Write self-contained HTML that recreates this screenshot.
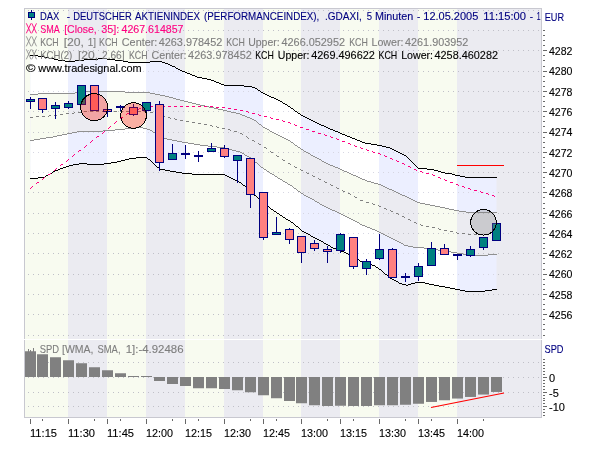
<!DOCTYPE html>
<html lang="de"><head><meta charset="utf-8"><title>DAX - DEUTSCHER AKTIENINDEX (PERFORMANCEINDEX)</title>
<style>html,body{margin:0;padding:0;background:#fff;}body{width:600px;height:450px;overflow:hidden;}svg{display:block;}text{font-family:"Liberation Sans",sans-serif;font-size:11px;stroke-width:0.12px;}.n{fill:#000080;stroke:#000080}.p{fill:#ff0080;stroke:#ff0080}.g{fill:#7e7e7e;stroke:#7e7e7e}.k{fill:#000;stroke:#000}</style>
</head><body>
<svg width="600" height="450" viewBox="0 0 600 450">
<defs>
<clipPath id="cpOuter"><polygon points="30.5,55.3 41.0,56.3 50.7,58.4 58.7,60.0 66.7,61.3 70.7,61.7 77.3,60.7 86.7,59.7 96.0,59.3 101.0,58.5 110.0,59.3 120.7,60.7 128.7,62.0 138.0,63.0 147.3,62.4 154.0,61.3 159.3,61.0 164.7,62.7 170.0,65.0 174.0,66.7 182.0,71.0 197.5,77.0 210.0,79.5 224.0,85.0 250.0,86.3 256.0,88.5 263.0,93.0 280.0,101.0 290.0,107.0 301.0,115.0 315.0,122.0 328.0,128.0 340.0,133.0 352.0,138.0 365.0,143.0 380.0,145.5 390.0,148.0 405.0,155.5 418.0,168.0 432.0,169.5 445.0,173.0 450.0,173.5 455.0,175.0 460.0,176.0 467.0,177.5 496.5,177.5 496.5,289.3 485.0,291.0 467.0,291.3 457.0,289.5 445.0,287.0 440.0,286.3 430.0,284.2 420.0,282.0 415.0,283.0 406.5,285.3 400.0,283.3 390.0,278.0 382.0,271.0 375.0,266.0 360.0,261.0 355.0,257.0 345.0,252.5 333.0,248.0 322.0,241.7 315.0,238.0 302.5,231.0 292.0,222.5 280.0,215.0 270.0,208.0 262.0,201.5 255.0,195.5 247.0,187.5 240.0,182.5 232.0,178.3 225.0,175.0 200.0,174.5 185.0,173.5 170.0,171.0 160.0,169.0 155.0,165.0 150.0,160.0 145.0,157.0 130.0,158.8 115.0,162.5 100.0,164.5 80.0,163.8 70.0,165.5 55.0,171.0 43.8,177.5 30.5,178.8"/></clipPath>
<clipPath id="cpInner"><polygon points="30.5,94.5 37.0,94.5 39.0,93.7 70.0,93.7 78.0,92.6 85.0,92.0 107.0,91.5 125.0,92.0 140.0,92.0 150.0,93.0 157.0,94.3 165.0,96.0 182.0,100.5 200.0,105.0 225.0,110.5 240.0,114.0 250.0,118.0 256.0,121.0 263.0,127.0 275.0,133.5 280.0,136.0 290.0,141.0 301.0,149.0 315.0,157.0 328.0,164.0 340.0,169.0 367.0,181.0 380.0,184.5 400.0,194.0 405.0,196.0 418.0,202.5 435.0,206.0 445.0,208.0 457.0,210.8 470.0,212.5 496.5,212.5 496.5,254.2 485.0,255.3 470.0,255.0 457.0,253.0 440.0,250.3 427.0,248.3 413.0,247.0 405.0,245.3 400.0,242.5 390.0,237.5 375.0,230.0 362.0,225.0 355.0,220.8 338.0,212.5 325.0,206.7 315.0,200.8 302.0,193.7 292.0,186.3 280.0,179.0 263.0,168.3 250.0,157.5 240.0,152.0 225.0,148.0 200.0,145.0 182.0,142.0 165.0,138.5 155.0,133.0 150.0,130.0 141.0,127.3 130.0,128.5 115.0,130.0 100.0,131.3 80.0,131.3 52.5,137.0 30.5,140.5"/></clipPath>
<clipPath id="cpPlot"><rect x="24" y="8" width="518" height="410"/></clipPath>
</defs>
<rect width="600" height="450" fill="#fff"/>
<g shape-rendering="crispEdges"><rect x="24" y="8" width="518" height="410" fill="#ebebf1"/><rect x="24.00" y="8" width="44.00" height="410" fill="#f8fbf0"/><rect x="107.00" y="8" width="39.00" height="410" fill="#f8fbf0"/><rect x="185.00" y="8" width="39.00" height="410" fill="#f8fbf0"/><rect x="263.00" y="8" width="38.00" height="410" fill="#f8fbf0"/><rect x="340.00" y="8" width="39.00" height="410" fill="#f8fbf0"/><rect x="418.00" y="8" width="39.00" height="410" fill="#f8fbf0"/></g>
<g stroke="#c0c0c8" stroke-width="1" stroke-dasharray="1 4" shape-rendering="crispEdges"><line x1="28" y1="10.5" x2="541" y2="10.5"/><line x1="28" y1="30.5" x2="541" y2="30.5"/><line x1="28" y1="50.5" x2="541" y2="50.5"/><line x1="28" y1="71.5" x2="541" y2="71.5"/><line x1="28" y1="91.5" x2="541" y2="91.5"/><line x1="28" y1="111.5" x2="541" y2="111.5"/><line x1="28" y1="132.5" x2="541" y2="132.5"/><line x1="28" y1="152.5" x2="541" y2="152.5"/><line x1="28" y1="172.5" x2="541" y2="172.5"/><line x1="28" y1="192.5" x2="541" y2="192.5"/><line x1="28" y1="213.5" x2="541" y2="213.5"/><line x1="28" y1="233.5" x2="541" y2="233.5"/><line x1="28" y1="253.5" x2="541" y2="253.5"/><line x1="28" y1="274.5" x2="541" y2="274.5"/><line x1="28" y1="294.5" x2="541" y2="294.5"/><line x1="28" y1="314.5" x2="541" y2="314.5"/><line x1="28" y1="335.5" x2="541" y2="335.5"/><line x1="28" y1="362.5" x2="541" y2="362.5"/><line x1="28" y1="377.5" x2="541" y2="377.5"/><line x1="28" y1="392.5" x2="541" y2="392.5"/><line x1="28" y1="406.5" x2="541" y2="406.5"/></g>
<g clip-path="url(#cpOuter)"><rect x="24" y="8" width="518" height="410" fill="#ecefff"/><rect x="24.00" y="8" width="44.00" height="410" fill="#ffffff"/><rect x="107.00" y="8" width="39.00" height="410" fill="#ffffff"/><rect x="185.00" y="8" width="39.00" height="410" fill="#ffffff"/><rect x="263.00" y="8" width="38.00" height="410" fill="#ffffff"/><rect x="340.00" y="8" width="39.00" height="410" fill="#ffffff"/><rect x="418.00" y="8" width="39.00" height="410" fill="#ffffff"/><g stroke="#d6d6e2" stroke-width="1" stroke-dasharray="1 4" shape-rendering="crispEdges"><line x1="28" y1="10.5" x2="541" y2="10.5"/><line x1="28" y1="30.5" x2="541" y2="30.5"/><line x1="28" y1="50.5" x2="541" y2="50.5"/><line x1="28" y1="71.5" x2="541" y2="71.5"/><line x1="28" y1="91.5" x2="541" y2="91.5"/><line x1="28" y1="111.5" x2="541" y2="111.5"/><line x1="28" y1="132.5" x2="541" y2="132.5"/><line x1="28" y1="152.5" x2="541" y2="152.5"/><line x1="28" y1="172.5" x2="541" y2="172.5"/><line x1="28" y1="192.5" x2="541" y2="192.5"/><line x1="28" y1="213.5" x2="541" y2="213.5"/><line x1="28" y1="233.5" x2="541" y2="233.5"/><line x1="28" y1="253.5" x2="541" y2="253.5"/><line x1="28" y1="274.5" x2="541" y2="274.5"/><line x1="28" y1="294.5" x2="541" y2="294.5"/><line x1="28" y1="314.5" x2="541" y2="314.5"/><line x1="28" y1="335.5" x2="541" y2="335.5"/><line x1="28" y1="362.5" x2="541" y2="362.5"/><line x1="28" y1="377.5" x2="541" y2="377.5"/><line x1="28" y1="392.5" x2="541" y2="392.5"/><line x1="28" y1="406.5" x2="541" y2="406.5"/></g></g>
<g clip-path="url(#cpInner)"><rect x="24" y="8" width="518" height="410" fill="#ebebf1"/><rect x="24.00" y="8" width="44.00" height="410" fill="#f8fbf0"/><rect x="107.00" y="8" width="39.00" height="410" fill="#f8fbf0"/><rect x="185.00" y="8" width="39.00" height="410" fill="#f8fbf0"/><rect x="263.00" y="8" width="38.00" height="410" fill="#f8fbf0"/><rect x="340.00" y="8" width="39.00" height="410" fill="#f8fbf0"/><rect x="418.00" y="8" width="39.00" height="410" fill="#f8fbf0"/><g stroke="#c4c4cc" stroke-width="1" stroke-dasharray="1 4" shape-rendering="crispEdges"><line x1="28" y1="10.5" x2="541" y2="10.5"/><line x1="28" y1="30.5" x2="541" y2="30.5"/><line x1="28" y1="50.5" x2="541" y2="50.5"/><line x1="28" y1="71.5" x2="541" y2="71.5"/><line x1="28" y1="91.5" x2="541" y2="91.5"/><line x1="28" y1="111.5" x2="541" y2="111.5"/><line x1="28" y1="132.5" x2="541" y2="132.5"/><line x1="28" y1="152.5" x2="541" y2="152.5"/><line x1="28" y1="172.5" x2="541" y2="172.5"/><line x1="28" y1="192.5" x2="541" y2="192.5"/><line x1="28" y1="213.5" x2="541" y2="213.5"/><line x1="28" y1="233.5" x2="541" y2="233.5"/><line x1="28" y1="253.5" x2="541" y2="253.5"/><line x1="28" y1="274.5" x2="541" y2="274.5"/><line x1="28" y1="294.5" x2="541" y2="294.5"/><line x1="28" y1="314.5" x2="541" y2="314.5"/><line x1="28" y1="335.5" x2="541" y2="335.5"/><line x1="28" y1="362.5" x2="541" y2="362.5"/><line x1="28" y1="377.5" x2="541" y2="377.5"/><line x1="28" y1="392.5" x2="541" y2="392.5"/><line x1="28" y1="406.5" x2="541" y2="406.5"/></g></g>
<rect x="24.5" y="8.5" width="517" height="409" fill="none" stroke="#c8c8d0" stroke-width="1" shape-rendering="crispEdges"/>
<line x1="24" y1="339.5" x2="542" y2="339.5" stroke="#ffffff" stroke-width="1" shape-rendering="crispEdges"/>
<g shape-rendering="crispEdges">
<path d="M85 91h40v1h-40zM75 92h10v1h-10zM125 92h25v1h-25zM38 93h37v1h-37zM150 93h5v1h-5zM30 94h8v1h-8zM155 94h5v1h-5zM160 95h5v1h-5zM165 96h4v1h-4zM169 97h4v1h-4zM173 98h3v1h-3zM176 99h4v1h-4zM180 100h4v1h-4zM184 101h4v1h-4zM188 102h4v1h-4zM192 103h4v1h-4zM196 104h4v1h-4zM200 105h5v1h-5zM205 106h4v1h-4zM209 107h5v1h-5zM214 108h4v1h-4zM218 109h5v1h-5zM223 110h4v1h-4zM227 111h4v1h-4zM231 112h5v1h-5zM236 113h4v1h-4zM240 114h2v1h-2zM242 115h3v1h-3zM245 116h2v1h-2zM247 117h3v1h-3zM250 118h2v1h-2zM252 119h2v1h-2zM254 120h2v1h-2zM256 121h1v1h-1zM257 122h1v1h-1zM258 123h1v1h-1zM259 124h2v1h-2zM261 125h1v1h-1zM262 126h1v1h-1zM263 127h2v1h-2zM265 128h2v1h-2zM267 129h2v1h-2zM269 130h1v1h-1zM270 131h2v1h-2zM272 132h2v1h-2zM274 133h2v1h-2zM276 134h2v1h-2zM278 135h2v1h-2zM280 136h2v1h-2zM282 137h2v1h-2zM284 138h2v1h-2zM286 139h2v1h-2zM288 140h2v1h-2zM290 141h1v1h-1zM291 142h2v1h-2zM293 143h1v1h-1zM294 144h1v1h-1zM295 145h2v1h-2zM297 146h1v1h-1zM298 147h2v1h-2zM300 148h1v1h-1zM301 149h2v1h-2zM303 150h1v1h-1zM304 151h2v1h-2zM306 152h2v1h-2zM308 153h2v1h-2zM310 154h1v1h-1zM311 155h2v1h-2zM313 156h2v1h-2zM315 157h2v1h-2zM317 158h2v1h-2zM319 159h2v1h-2zM321 160h1v1h-1zM322 161h2v1h-2zM324 162h2v1h-2zM326 163h2v1h-2zM328 164h2v1h-2zM330 165h3v1h-3zM333 166h2v1h-2zM335 167h3v1h-3zM338 168h2v1h-2zM340 169h2v1h-2zM342 170h2v1h-2zM344 171h3v1h-3zM347 172h2v1h-2zM349 173h2v1h-2zM351 174h2v1h-2zM353 175h3v1h-3zM356 176h2v1h-2zM358 177h2v1h-2zM360 178h2v1h-2zM362 179h3v1h-3zM365 180h2v1h-2zM367 181h4v1h-4zM371 182h3v1h-3zM374 183h4v1h-4zM378 184h3v1h-3zM381 185h2v1h-2zM383 186h2v1h-2zM385 187h2v1h-2zM387 188h2v1h-2zM389 189h3v1h-3zM392 190h2v1h-2zM394 191h2v1h-2zM396 192h2v1h-2zM398 193h2v1h-2zM400 194h2v1h-2zM402 195h3v1h-3zM405 196h2v1h-2zM407 197h2v1h-2zM409 198h2v1h-2zM411 199h2v1h-2zM413 200h2v1h-2zM415 201h2v1h-2zM417 202h3v1h-3zM420 203h5v1h-5zM425 204h5v1h-5zM430 205h5v1h-5zM435 206h5v1h-5zM440 207h5v1h-5zM445 208h4v1h-4zM449 209h5v1h-5zM454 210h5v1h-5zM459 211h7v1h-7zM466 212h31v1h-31z" fill="#909090"/>
<path d="M135 127h8v1h-8zM125 128h10v1h-10zM143 128h4v1h-4zM115 129h10v1h-10zM147 129h3v1h-3zM103 130h12v1h-12zM150 130h2v1h-2zM77 131h26v1h-26zM152 131h1v1h-1zM72 132h5v1h-5zM153 132h2v1h-2zM67 133h5v1h-5zM155 133h2v1h-2zM62 134h5v1h-5zM157 134h2v1h-2zM57 135h5v1h-5zM159 135h1v1h-1zM53 136h4v1h-4zM160 136h2v1h-2zM46 137h7v1h-7zM162 137h2v1h-2zM40 138h6v1h-6zM164 138h3v1h-3zM34 139h6v1h-6zM167 139h5v1h-5zM30 140h4v1h-4zM172 140h5v1h-5zM177 141h5v1h-5zM182 142h6v1h-6zM188 143h6v1h-6zM194 144h6v1h-6zM200 145h8v1h-8zM208 146h9v1h-9zM217 147h8v1h-8zM225 148h4v1h-4zM229 149h3v1h-3zM232 150h4v1h-4zM236 151h4v1h-4zM240 152h2v1h-2zM242 153h2v1h-2zM244 154h1v1h-1zM245 155h2v1h-2zM247 156h2v1h-2zM249 157h2v1h-2zM251 158h1v1h-1zM252 159h1v1h-1zM253 160h1v1h-1zM254 161h1v1h-1zM255 162h2v1h-2zM257 163h1v1h-1zM258 164h1v1h-1zM259 165h1v1h-1zM260 166h1v1h-1zM261 167h2v1h-2zM263 168h1v1h-1zM264 169h2v1h-2zM266 170h1v1h-1zM267 171h2v1h-2zM269 172h1v1h-1zM270 173h2v1h-2zM272 174h2v1h-2zM274 175h1v1h-1zM275 176h2v1h-2zM277 177h1v1h-1zM278 178h2v1h-2zM280 179h2v1h-2zM282 180h1v1h-1zM283 181h2v1h-2zM285 182h2v1h-2zM287 183h1v1h-1zM288 184h2v1h-2zM290 185h2v1h-2zM292 186h1v1h-1zM293 187h1v1h-1zM294 188h2v1h-2zM296 189h1v1h-1zM297 190h1v1h-1zM298 191h2v1h-2zM300 192h1v1h-1zM301 193h2v1h-2zM303 194h1v1h-1zM304 195h2v1h-2zM306 196h2v1h-2zM308 197h2v1h-2zM310 198h2v1h-2zM312 199h2v1h-2zM314 200h1v1h-1zM315 201h2v1h-2zM317 202h2v1h-2zM319 203h1v1h-1zM320 204h2v1h-2zM322 205h2v1h-2zM324 206h2v1h-2zM326 207h2v1h-2zM328 208h2v1h-2zM330 209h2v1h-2zM332 210h3v1h-3zM335 211h2v1h-2zM337 212h2v1h-2zM339 213h2v1h-2zM341 214h2v1h-2zM343 215h2v1h-2zM345 216h2v1h-2zM347 217h2v1h-2zM349 218h2v1h-2zM351 219h2v1h-2zM353 220h2v1h-2zM355 221h2v1h-2zM357 222h2v1h-2zM359 223h1v1h-1zM360 224h2v1h-2zM362 225h3v1h-3zM365 226h2v1h-2zM367 227h3v1h-3zM370 228h2v1h-2zM372 229h3v1h-3zM375 230h2v1h-2zM377 231h2v1h-2zM379 232h2v1h-2zM381 233h2v1h-2zM383 234h2v1h-2zM385 235h2v1h-2zM387 236h2v1h-2zM389 237h2v1h-2zM391 238h2v1h-2zM393 239h2v1h-2zM395 240h2v1h-2zM397 241h2v1h-2zM399 242h2v1h-2zM401 243h2v1h-2zM403 244h1v1h-1zM404 245h4v1h-4zM408 246h5v1h-5zM413 247h11v1h-11zM424 248h8v1h-8zM432 249h6v1h-6zM438 250h6v1h-6zM444 251h7v1h-7zM451 252h6v1h-6zM457 253h6v1h-6zM463 254h7v1h-7zM488 254h9v1h-9zM470 255h18v1h-18z" fill="#909090"/>
<path d="M84 111h3v1h-3zM90 111h3v1h-3zM96 111h3v1h-3zM102 111h3v1h-3zM108 111h3v1h-3zM114 111h3v1h-3zM120 111h3v1h-3zM126 111h3v1h-3zM132 111h3v1h-3zM138 111h3v1h-3zM144 111h3v1h-3zM74 112h1v1h-1zM78 112h3v1h-3zM150 112h3v1h-3zM66 113h3v1h-3zM72 113h2v1h-2zM60 114h3v1h-3zM156 114h3v1h-3zM49 115h2v1h-2zM54 115h3v1h-3zM36 116h3v1h-3zM42 116h3v1h-3zM48 116h1v1h-1zM162 116h3v1h-3zM30 117h3v1h-3zM168 117h2v1h-2zM170 118h1v1h-1zM174 118h1v1h-1zM175 119h2v1h-2zM180 120h3v1h-3zM186 121h3v1h-3zM192 122h3v1h-3zM198 123h3v1h-3zM204 124h3v1h-3zM210 125h2v1h-2zM212 126h1v1h-1zM216 126h1v1h-1zM217 127h2v1h-2zM222 128h3v1h-3zM228 129h2v1h-2zM230 130h1v1h-1zM234 131h3v1h-3zM240 133h2v1h-2zM242 134h1v1h-1zM246 136h1v1h-1zM247 137h1v1h-1zM248 138h1v1h-1zM252 140h2v1h-2zM254 141h1v1h-1zM258 143h1v1h-1zM259 144h2v1h-2zM264 147h2v1h-2zM266 148h1v1h-1zM270 151h1v1h-1zM271 152h2v1h-2zM276 155h1v1h-1zM277 156h2v1h-2zM282 159h1v1h-1zM283 160h2v1h-2zM288 163h2v1h-2zM290 164h1v1h-1zM294 166h1v1h-1zM295 167h2v1h-2zM300 169h1v1h-1zM301 170h2v1h-2zM306 172h1v1h-1zM307 173h2v1h-2zM312 175h1v1h-1zM313 176h2v1h-2zM318 178h1v1h-1zM319 179h2v1h-2zM324 181h1v1h-1zM325 182h2v1h-2zM330 184h1v1h-1zM331 185h2v1h-2zM336 187h1v1h-1zM337 188h2v1h-2zM342 190h1v1h-1zM343 191h2v1h-2zM348 193h2v1h-2zM350 194h1v1h-1zM354 196h1v1h-1zM355 197h2v1h-2zM360 200h3v1h-3zM366 202h3v1h-3zM372 203h1v1h-1zM373 204h2v1h-2zM378 205h1v1h-1zM379 206h2v1h-2zM384 208h2v1h-2zM386 209h1v1h-1zM390 210h1v1h-1zM391 211h2v1h-2zM396 213h2v1h-2zM398 214h1v1h-1zM402 216h2v1h-2zM404 217h1v1h-1zM408 219h2v1h-2zM410 220h1v1h-1zM414 222h2v1h-2zM416 223h1v1h-1zM420 224h1v1h-1zM421 225h2v1h-2zM426 226h3v1h-3zM432 227h3v1h-3zM438 228h1v1h-1zM439 229h2v1h-2zM444 230h3v1h-3zM450 231h3v1h-3zM456 232h1v1h-1zM457 233h2v1h-2zM462 233h3v1h-3zM468 234h3v1h-3zM474 234h3v1h-3zM480 234h3v1h-3zM486 234h3v1h-3zM492 234h3v1h-3z" fill="#808080"/>
<path d="M30 55h8v1h-8zM38 56h6v1h-6zM44 57h5v1h-5zM49 58h5v1h-5zM98 58h9v1h-9zM54 59h4v1h-4zM84 59h14v1h-14zM107 59h8v1h-8zM58 60h7v1h-7zM75 60h9v1h-9zM115 60h8v1h-8zM65 61h10v1h-10zM123 61h5v1h-5zM150 61h12v1h-12zM128 62h22v1h-22zM162 62h3v1h-3zM165 63h3v1h-3zM168 64h2v1h-2zM170 65h2v1h-2zM172 66h3v1h-3zM175 67h1v1h-1zM176 68h2v1h-2zM178 69h2v1h-2zM180 70h2v1h-2zM182 71h3v1h-3zM185 72h2v1h-2zM187 73h3v1h-3zM190 74h2v1h-2zM192 75h3v1h-3zM195 76h2v1h-2zM197 77h5v1h-5zM202 78h5v1h-5zM207 79h4v1h-4zM211 80h3v1h-3zM214 81h2v1h-2zM216 82h3v1h-3zM219 83h2v1h-2zM221 84h3v1h-3zM224 85h20v1h-20zM244 86h8v1h-8zM252 87h3v1h-3zM255 88h2v1h-2zM257 89h1v1h-1zM258 90h2v1h-2zM260 91h1v1h-1zM261 92h2v1h-2zM263 93h2v1h-2zM265 94h2v1h-2zM267 95h2v1h-2zM269 96h2v1h-2zM271 97h3v1h-3zM274 98h2v1h-2zM276 99h2v1h-2zM278 100h2v1h-2zM280 101h2v1h-2zM282 102h1v1h-1zM283 103h2v1h-2zM285 104h2v1h-2zM287 105h1v1h-1zM288 106h2v1h-2zM290 107h1v1h-1zM291 108h2v1h-2zM293 109h1v1h-1zM294 110h1v1h-1zM295 111h2v1h-2zM297 112h1v1h-1zM298 113h2v1h-2zM300 114h1v1h-1zM301 115h2v1h-2zM303 116h2v1h-2zM305 117h2v1h-2zM307 118h2v1h-2zM309 119h2v1h-2zM311 120h2v1h-2zM313 121h2v1h-2zM315 122h2v1h-2zM317 123h2v1h-2zM319 124h2v1h-2zM321 125h3v1h-3zM324 126h2v1h-2zM326 127h2v1h-2zM328 128h2v1h-2zM330 129h3v1h-3zM333 130h2v1h-2zM335 131h3v1h-3zM338 132h2v1h-2zM340 133h2v1h-2zM342 134h3v1h-3zM345 135h2v1h-2zM347 136h3v1h-3zM350 137h2v1h-2zM352 138h3v1h-3zM355 139h2v1h-2zM357 140h3v1h-3zM360 141h2v1h-2zM362 142h3v1h-3zM365 143h6v1h-6zM371 144h6v1h-6zM377 145h5v1h-5zM382 146h4v1h-4zM386 147h4v1h-4zM390 148h2v1h-2zM392 149h2v1h-2zM394 150h2v1h-2zM396 151h2v1h-2zM398 152h2v1h-2zM400 153h2v1h-2zM402 154h2v1h-2zM404 155h2v1h-2zM406 156h1v1h-1zM407 157h1v1h-1zM408 158h1v1h-1zM409 159h1v1h-1zM410 160h1v1h-1zM411 161h1v1h-1zM412 162h1v1h-1zM413 163h1v1h-1zM414 164h1v1h-1zM415 165h1v1h-1zM416 166h1v1h-1zM417 167h1v1h-1zM418 168h9v1h-9zM427 169h7v1h-7zM434 170h4v1h-4zM438 171h3v1h-3zM441 172h4v1h-4zM445 173h7v1h-7zM452 174h3v1h-3zM455 175h5v1h-5zM460 176h5v1h-5zM465 177h32v1h-32z" fill="#000"/>
<path d="M136 157h11v1h-11zM129 158h7v1h-7zM147 158h1v1h-1zM125 159h4v1h-4zM148 159h2v1h-2zM121 160h4v1h-4zM150 160h1v1h-1zM117 161h4v1h-4zM151 161h1v1h-1zM111 162h6v1h-6zM152 162h1v1h-1zM79 163h8v1h-8zM104 163h7v1h-7zM153 163h1v1h-1zM73 164h6v1h-6zM87 164h17v1h-17zM154 164h1v1h-1zM69 165h4v1h-4zM155 165h1v1h-1zM66 166h3v1h-3zM156 166h1v1h-1zM63 167h3v1h-3zM157 167h2v1h-2zM60 168h3v1h-3zM159 168h1v1h-1zM58 169h2v1h-2zM160 169h5v1h-5zM55 170h3v1h-3zM165 170h5v1h-5zM53 171h2v1h-2zM170 171h6v1h-6zM52 172h1v1h-1zM176 172h6v1h-6zM50 173h2v1h-2zM182 173h10v1h-10zM48 174h2v1h-2zM192 174h33v1h-33zM46 175h2v1h-2zM225 175h2v1h-2zM45 176h1v1h-1zM227 176h2v1h-2zM38 177h7v1h-7zM229 177h2v1h-2zM30 178h8v1h-8zM231 178h2v1h-2zM233 179h2v1h-2zM235 180h2v1h-2zM237 181h2v1h-2zM239 182h2v1h-2zM241 183h1v1h-1zM242 184h1v1h-1zM243 185h2v1h-2zM245 186h1v1h-1zM246 187h1v1h-1zM247 188h1v1h-1zM248 189h1v1h-1zM249 190h1v1h-1zM250 191h1v1h-1zM251 192h1v1h-1zM252 193h1v1h-1zM253 194h1v1h-1zM254 195h2v1h-2zM256 196h1v1h-1zM257 197h1v1h-1zM258 198h1v1h-1zM259 199h1v1h-1zM260 200h1v1h-1zM261 201h2v1h-2zM263 202h1v1h-1zM264 203h1v1h-1zM265 204h1v1h-1zM266 205h2v1h-2zM268 206h1v1h-1zM269 207h1v1h-1zM270 208h1v1h-1zM271 209h2v1h-2zM273 210h1v1h-1zM274 211h2v1h-2zM276 212h1v1h-1zM277 213h2v1h-2zM279 214h1v1h-1zM280 215h2v1h-2zM282 216h1v1h-1zM283 217h2v1h-2zM285 218h1v1h-1zM286 219h2v1h-2zM288 220h2v1h-2zM290 221h1v1h-1zM291 222h2v1h-2zM293 223h1v1h-1zM294 224h1v1h-1zM295 225h1v1h-1zM296 226h2v1h-2zM298 227h1v1h-1zM299 228h1v1h-1zM300 229h1v1h-1zM301 230h1v1h-1zM302 231h2v1h-2zM304 232h2v1h-2zM306 233h2v1h-2zM308 234h2v1h-2zM310 235h1v1h-1zM311 236h2v1h-2zM313 237h2v1h-2zM315 238h2v1h-2zM317 239h2v1h-2zM319 240h2v1h-2zM321 241h2v1h-2zM323 242h1v1h-1zM324 243h2v1h-2zM326 244h2v1h-2zM328 245h2v1h-2zM330 246h1v1h-1zM331 247h2v1h-2zM333 248h3v1h-3zM336 249h2v1h-2zM338 250h3v1h-3zM341 251h3v1h-3zM344 252h2v1h-2zM346 253h2v1h-2zM348 254h3v1h-3zM351 255h2v1h-2zM353 256h2v1h-2zM355 257h1v1h-1zM356 258h1v1h-1zM357 259h2v1h-2zM359 260h1v1h-1zM360 261h3v1h-3zM363 262h3v1h-3zM366 263h3v1h-3zM369 264h3v1h-3zM372 265h3v1h-3zM375 266h1v1h-1zM376 267h2v1h-2zM378 268h1v1h-1zM379 269h2v1h-2zM381 270h1v1h-1zM382 271h1v1h-1zM383 272h1v1h-1zM384 273h1v1h-1zM385 274h2v1h-2zM387 275h1v1h-1zM388 276h1v1h-1zM389 277h1v1h-1zM390 278h2v1h-2zM392 279h2v1h-2zM394 280h2v1h-2zM396 281h2v1h-2zM398 282h1v1h-1zM415 282h10v1h-10zM399 283h3v1h-3zM411 283h4v1h-4zM425 283h4v1h-4zM402 284h4v1h-4zM408 284h3v1h-3zM429 284h5v1h-5zM406 285h2v1h-2zM434 285h5v1h-5zM439 286h6v1h-6zM445 287h5v1h-5zM450 288h5v1h-5zM455 289h5v1h-5zM492 289h5v1h-5zM460 290h5v1h-5zM485 290h7v1h-7zM465 291h20v1h-20z" fill="#000"/>
<path d="M150 106h3v1h-3zM156 106h3v1h-3zM162 106h3v1h-3zM168 106h3v1h-3zM174 106h3v1h-3zM180 106h3v1h-3zM186 106h3v1h-3zM192 106h3v1h-3zM198 106h3v1h-3zM204 106h3v1h-3zM210 106h3v1h-3zM144 107h3v1h-3zM216 107h3v1h-3zM222 107h3v1h-3zM139 108h2v1h-2zM228 108h3v1h-3zM138 109h1v1h-1zM234 109h3v1h-3zM133 110h2v1h-2zM240 110h3v1h-3zM132 111h1v1h-1zM246 111h2v1h-2zM248 112h1v1h-1zM127 113h2v1h-2zM252 113h3v1h-3zM126 114h1v1h-1zM258 114h1v1h-1zM259 115h2v1h-2zM264 116h3v1h-3zM121 117h2v1h-2zM270 117h1v1h-1zM120 118h1v1h-1zM271 118h2v1h-2zM276 119h3v1h-3zM282 120h1v1h-1zM116 121h1v1h-1zM283 121h2v1h-2zM115 122h1v1h-1zM288 122h2v1h-2zM114 123h1v1h-1zM290 123h1v1h-1zM294 124h1v1h-1zM295 125h2v1h-2zM110 126h1v1h-1zM109 127h1v1h-1zM300 127h3v1h-3zM108 128h1v1h-1zM306 129h3v1h-3zM104 131h1v1h-1zM312 131h3v1h-3zM103 132h1v1h-1zM102 133h1v1h-1zM318 133h3v1h-3zM324 134h1v1h-1zM325 135h2v1h-2zM97 136h2v1h-2zM330 136h1v1h-1zM96 137h1v1h-1zM331 137h2v1h-2zM336 138h1v1h-1zM337 139h2v1h-2zM92 140h1v1h-1zM91 141h1v1h-1zM342 141h3v1h-3zM90 142h1v1h-1zM348 143h2v1h-2zM350 144h1v1h-1zM86 145h1v1h-1zM354 145h1v1h-1zM85 146h1v1h-1zM355 146h2v1h-2zM84 147h1v1h-1zM360 147h1v1h-1zM361 148h2v1h-2zM366 149h1v1h-1zM79 150h2v1h-2zM367 150h2v1h-2zM78 151h1v1h-1zM372 151h1v1h-1zM373 152h2v1h-2zM378 153h2v1h-2zM74 154h1v1h-1zM380 154h1v1h-1zM73 155h1v1h-1zM384 155h1v1h-1zM72 156h1v1h-1zM385 156h2v1h-2zM390 158h2v1h-2zM68 159h1v1h-1zM392 159h1v1h-1zM67 160h1v1h-1zM396 160h1v1h-1zM66 161h1v1h-1zM397 161h2v1h-2zM402 163h2v1h-2zM61 164h2v1h-2zM404 164h1v1h-1zM60 165h1v1h-1zM408 166h2v1h-2zM410 167h1v1h-1zM56 168h1v1h-1zM55 169h1v1h-1zM414 169h2v1h-2zM54 170h1v1h-1zM416 170h1v1h-1zM420 171h2v1h-2zM422 172h1v1h-1zM50 173h1v1h-1zM426 173h3v1h-3zM48 174h2v1h-2zM432 174h1v1h-1zM433 175h2v1h-2zM44 177h1v1h-1zM438 177h2v1h-2zM43 178h1v1h-1zM440 178h1v1h-1zM42 179h1v1h-1zM444 179h1v1h-1zM445 180h2v1h-2zM37 182h2v1h-2zM450 182h3v1h-3zM36 183h1v1h-1zM456 184h2v1h-2zM458 185h1v1h-1zM32 186h1v1h-1zM462 186h2v1h-2zM31 187h1v1h-1zM464 187h1v1h-1zM30 188h1v1h-1zM468 188h2v1h-2zM470 189h1v1h-1zM474 190h3v1h-3zM480 191h1v1h-1zM481 192h2v1h-2zM486 193h2v1h-2zM488 194h1v1h-1zM492 195h2v1h-2zM494 196h1v1h-1z" fill="#ff0080"/>
</g>
<g stroke="#000080" stroke-width="1" shape-rendering="crispEdges"><line x1="30.5" y1="97" x2="30.5" y2="109"/><rect x="26.5" y="99.5" width="8" height="2" fill="#008080"/><line x1="42.5" y1="98" x2="42.5" y2="113"/><rect x="38.5" y="98.5" width="8" height="11" fill="#ff8080"/><line x1="55.5" y1="102" x2="55.5" y2="119"/><rect x="51.5" y="105.5" width="8" height="3" fill="#008080"/><line x1="68.5" y1="101" x2="68.5" y2="109"/><rect x="64.5" y="103.5" width="8" height="4" fill="#008080"/><line x1="81.5" y1="85" x2="81.5" y2="105"/><rect x="77.5" y="85.5" width="8" height="19" fill="#008080"/><line x1="94.5" y1="85" x2="94.5" y2="111"/><rect x="90.5" y="85.5" width="8" height="25" fill="#ff8080"/><line x1="107.5" y1="105" x2="107.5" y2="117"/><rect x="103.5" y="109.5" width="8" height="2" fill="#ff8080"/><line x1="120.5" y1="105" x2="120.5" y2="111"/><rect x="116.0" y="106" width="9" height="2" fill="#000080" stroke="none"/><line x1="133.5" y1="104" x2="133.5" y2="116"/><rect x="129.5" y="107.5" width="8" height="7" fill="#ff8080"/><line x1="146.5" y1="102" x2="146.5" y2="112"/><rect x="142.5" y="102.5" width="8" height="8" fill="#008080"/><line x1="159.5" y1="101" x2="159.5" y2="171"/><rect x="155.5" y="104.5" width="8" height="58" fill="#ff8080"/><line x1="172.5" y1="144" x2="172.5" y2="160"/><rect x="168.5" y="153.5" width="8" height="6" fill="#008080"/><line x1="185.5" y1="145" x2="185.5" y2="159"/><rect x="181.0" y="153" width="9" height="2" fill="#000080" stroke="none"/><line x1="198.5" y1="151" x2="198.5" y2="162"/><rect x="194.0" y="155" width="9" height="2" fill="#000080" stroke="none"/><line x1="211.5" y1="143" x2="211.5" y2="152"/><rect x="207.5" y="148.5" width="8" height="3" fill="#008080"/><line x1="224.5" y1="145" x2="224.5" y2="158"/><rect x="220.5" y="148.5" width="8" height="8" fill="#ff8080"/><line x1="237.5" y1="155" x2="237.5" y2="183"/><rect x="233.5" y="155.5" width="8" height="5" fill="#008080"/><line x1="250.5" y1="158" x2="250.5" y2="208"/><rect x="246.5" y="158.5" width="8" height="36" fill="#ff8080"/><line x1="263.5" y1="192" x2="263.5" y2="240"/><rect x="259.5" y="192.5" width="8" height="45" fill="#ff8080"/><line x1="276.5" y1="217" x2="276.5" y2="235"/><rect x="272.5" y="232.5" width="8" height="2" fill="#008080"/><line x1="289.5" y1="228" x2="289.5" y2="244"/><rect x="285.5" y="229.5" width="8" height="10" fill="#ff8080"/><line x1="301.5" y1="236" x2="301.5" y2="263"/><rect x="297.5" y="236.5" width="8" height="16" fill="#ff8080"/><line x1="314.5" y1="240" x2="314.5" y2="251"/><rect x="310.5" y="243.5" width="8" height="5" fill="#ff8080"/><line x1="327.5" y1="246" x2="327.5" y2="263"/><rect x="323.5" y="249.5" width="8" height="2" fill="#ff8080"/><line x1="340.5" y1="233" x2="340.5" y2="253"/><rect x="336.5" y="234.5" width="8" height="16" fill="#008080"/><line x1="353.5" y1="237" x2="353.5" y2="269"/><rect x="349.5" y="237.5" width="8" height="29" fill="#ff8080"/><line x1="366.5" y1="259" x2="366.5" y2="275"/><rect x="362.5" y="261.5" width="8" height="7" fill="#008080"/><line x1="379.5" y1="234" x2="379.5" y2="260"/><rect x="375.5" y="249.5" width="8" height="9" fill="#008080"/><line x1="392.5" y1="248" x2="392.5" y2="278"/><rect x="388.5" y="249.5" width="8" height="28" fill="#ff8080"/><line x1="405.5" y1="273" x2="405.5" y2="282"/><rect x="401.0" y="276" width="9" height="2" fill="#000080" stroke="none"/><line x1="418.5" y1="263" x2="418.5" y2="281"/><rect x="414.5" y="266.5" width="8" height="10" fill="#008080"/><line x1="431.5" y1="242" x2="431.5" y2="266"/><rect x="427.5" y="248.5" width="8" height="17" fill="#008080"/><line x1="444.5" y1="244" x2="444.5" y2="255"/><rect x="440.5" y="248.5" width="8" height="6" fill="#ff8080"/><line x1="457.5" y1="254" x2="457.5" y2="260"/><rect x="453.0" y="254" width="9" height="2" fill="#000080" stroke="none"/><line x1="470.5" y1="246" x2="470.5" y2="257"/><rect x="466.5" y="249.5" width="8" height="6" fill="#008080"/><line x1="483.5" y1="237" x2="483.5" y2="250"/><rect x="479.5" y="237.5" width="8" height="10" fill="#008080"/><line x1="496.5" y1="223" x2="496.5" y2="241"/><rect x="492.5" y="223.5" width="8" height="17" fill="#008080"/></g>
<g stroke="#000" stroke-width="1" shape-rendering="crispEdges">
<circle cx="94.2" cy="107.2" r="13.5" fill="rgba(255,16,0,0.32)"/>
<circle cx="133.6" cy="115.5" r="12.8" fill="rgba(255,16,0,0.32)"/>
<circle cx="483.5" cy="222.3" r="12.8" fill="rgba(128,128,128,0.3)"/>
</g>
<line x1="457" y1="165.5" x2="504" y2="165.5" stroke="#ff0000" stroke-width="1" shape-rendering="crispEdges"/>
<line x1="431" y1="407.5" x2="504" y2="393" stroke="#ff0000" stroke-width="1.2"/>
<g fill="#808080" clip-path="url(#cpPlot)"><rect x="25" y="351.25" width="11" height="25.75"/><rect x="37" y="354.25" width="11" height="22.75"/><rect x="50" y="357.25" width="11" height="19.75"/><rect x="63" y="360.25" width="11" height="16.75"/><rect x="76" y="363.25" width="11" height="13.75"/><rect x="89" y="367.25" width="11" height="9.75"/><rect x="102" y="370.25" width="11" height="6.75"/><rect x="115" y="373.25" width="11" height="3.75"/><rect x="128" y="376.00" width="11" height="1.00"/><rect x="141" y="376.00" width="11" height="1.00"/><rect x="154" y="377.00" width="11" height="4.00"/><rect x="167" y="377.00" width="11" height="7.00"/><rect x="180" y="377.00" width="11" height="9.00"/><rect x="193" y="377.00" width="11" height="11.25"/><rect x="206" y="377.00" width="11" height="11.25"/><rect x="219" y="377.00" width="11" height="12.00"/><rect x="232" y="377.00" width="11" height="13.25"/><rect x="245" y="377.00" width="11" height="15.25"/><rect x="258" y="377.00" width="11" height="18.25"/><rect x="271" y="377.00" width="11" height="21.25"/><rect x="284" y="377.00" width="11" height="24.00"/><rect x="296" y="377.00" width="11" height="26.25"/><rect x="309" y="377.00" width="11" height="28.25"/><rect x="322" y="377.00" width="11" height="29.00"/><rect x="335" y="377.00" width="11" height="28.75"/><rect x="348" y="377.00" width="11" height="29.00"/><rect x="361" y="377.00" width="11" height="29.00"/><rect x="374" y="377.00" width="11" height="28.25"/><rect x="387" y="377.00" width="11" height="28.25"/><rect x="400" y="377.00" width="11" height="27.75"/><rect x="413" y="377.00" width="11" height="26.75"/><rect x="426" y="377.00" width="11" height="24.95"/><rect x="439" y="377.00" width="11" height="23.25"/><rect x="452" y="377.00" width="11" height="21.55"/><rect x="465" y="377.00" width="11" height="19.95"/><rect x="478" y="377.00" width="11" height="17.55"/><rect x="491" y="377.00" width="11" height="14.95"/></g>
<g stroke="#686868" stroke-width="1" shape-rendering="crispEdges"><line x1="543" y1="30.5" x2="545" y2="30.5"/><line x1="543" y1="35.5" x2="545" y2="35.5"/><line x1="543" y1="40.5" x2="545" y2="40.5"/><line x1="543" y1="45.5" x2="545" y2="45.5"/><line x1="543" y1="50.5" x2="547" y2="50.5"/><line x1="543" y1="55.5" x2="545" y2="55.5"/><line x1="543" y1="60.5" x2="545" y2="60.5"/><line x1="543" y1="66.5" x2="545" y2="66.5"/><line x1="543" y1="71.5" x2="547" y2="71.5"/><line x1="543" y1="76.5" x2="545" y2="76.5"/><line x1="543" y1="81.5" x2="545" y2="81.5"/><line x1="543" y1="86.5" x2="545" y2="86.5"/><line x1="543" y1="91.5" x2="547" y2="91.5"/><line x1="543" y1="96.5" x2="545" y2="96.5"/><line x1="543" y1="101.5" x2="545" y2="101.5"/><line x1="543" y1="106.5" x2="545" y2="106.5"/><line x1="543" y1="111.5" x2="547" y2="111.5"/><line x1="543" y1="116.5" x2="545" y2="116.5"/><line x1="543" y1="121.5" x2="545" y2="121.5"/><line x1="543" y1="126.5" x2="545" y2="126.5"/><line x1="543" y1="132.5" x2="547" y2="132.5"/><line x1="543" y1="137.5" x2="545" y2="137.5"/><line x1="543" y1="142.5" x2="545" y2="142.5"/><line x1="543" y1="147.5" x2="545" y2="147.5"/><line x1="543" y1="152.5" x2="547" y2="152.5"/><line x1="543" y1="157.5" x2="545" y2="157.5"/><line x1="543" y1="162.5" x2="545" y2="162.5"/><line x1="543" y1="167.5" x2="545" y2="167.5"/><line x1="543" y1="172.5" x2="547" y2="172.5"/><line x1="543" y1="177.5" x2="545" y2="177.5"/><line x1="543" y1="182.5" x2="545" y2="182.5"/><line x1="543" y1="187.5" x2="545" y2="187.5"/><line x1="543" y1="192.5" x2="547" y2="192.5"/><line x1="543" y1="197.5" x2="545" y2="197.5"/><line x1="543" y1="203.5" x2="545" y2="203.5"/><line x1="543" y1="208.5" x2="545" y2="208.5"/><line x1="543" y1="213.5" x2="547" y2="213.5"/><line x1="543" y1="218.5" x2="545" y2="218.5"/><line x1="543" y1="223.5" x2="545" y2="223.5"/><line x1="543" y1="228.5" x2="545" y2="228.5"/><line x1="543" y1="233.5" x2="547" y2="233.5"/><line x1="543" y1="238.5" x2="545" y2="238.5"/><line x1="543" y1="243.5" x2="545" y2="243.5"/><line x1="543" y1="248.5" x2="545" y2="248.5"/><line x1="543" y1="253.5" x2="547" y2="253.5"/><line x1="543" y1="258.5" x2="545" y2="258.5"/><line x1="543" y1="263.5" x2="545" y2="263.5"/><line x1="543" y1="269.5" x2="545" y2="269.5"/><line x1="543" y1="274.5" x2="547" y2="274.5"/><line x1="543" y1="279.5" x2="545" y2="279.5"/><line x1="543" y1="284.5" x2="545" y2="284.5"/><line x1="543" y1="289.5" x2="545" y2="289.5"/><line x1="543" y1="294.5" x2="547" y2="294.5"/><line x1="543" y1="299.5" x2="545" y2="299.5"/><line x1="543" y1="304.5" x2="545" y2="304.5"/><line x1="543" y1="309.5" x2="545" y2="309.5"/><line x1="543" y1="314.5" x2="547" y2="314.5"/><line x1="543" y1="319.5" x2="545" y2="319.5"/><line x1="543" y1="324.5" x2="545" y2="324.5"/><line x1="543" y1="329.5" x2="545" y2="329.5"/><line x1="543" y1="335.5" x2="545" y2="335.5"/><line x1="543" y1="359.5" x2="545" y2="359.5"/><line x1="543" y1="362.5" x2="545" y2="362.5"/><line x1="543" y1="365.5" x2="545" y2="365.5"/><line x1="543" y1="368.5" x2="545" y2="368.5"/><line x1="543" y1="371.5" x2="545" y2="371.5"/><line x1="543" y1="374.5" x2="545" y2="374.5"/><line x1="543" y1="377.5" x2="547" y2="377.5"/><line x1="543" y1="380.5" x2="545" y2="380.5"/><line x1="543" y1="383.5" x2="545" y2="383.5"/><line x1="543" y1="386.5" x2="545" y2="386.5"/><line x1="543" y1="389.5" x2="545" y2="389.5"/><line x1="543" y1="392.5" x2="547" y2="392.5"/><line x1="543" y1="395.5" x2="545" y2="395.5"/><line x1="543" y1="398.5" x2="545" y2="398.5"/><line x1="543" y1="400.5" x2="545" y2="400.5"/><line x1="543" y1="403.5" x2="545" y2="403.5"/><line x1="543" y1="406.5" x2="547" y2="406.5"/><line x1="543" y1="409.5" x2="545" y2="409.5"/><line x1="543" y1="412.5" x2="545" y2="412.5"/><line x1="543" y1="415.5" x2="545" y2="415.5"/><line x1="30.5" y1="419" x2="30.5" y2="424"/><line x1="42.5" y1="419" x2="42.5" y2="421"/><line x1="68.5" y1="419" x2="68.5" y2="424"/><line x1="94.5" y1="419" x2="94.5" y2="421"/><line x1="107.5" y1="419" x2="107.5" y2="424"/><line x1="120.5" y1="419" x2="120.5" y2="421"/><line x1="146.5" y1="419" x2="146.5" y2="424"/><line x1="172.5" y1="419" x2="172.5" y2="421"/><line x1="185.5" y1="419" x2="185.5" y2="424"/><line x1="198.5" y1="419" x2="198.5" y2="421"/><line x1="224.5" y1="419" x2="224.5" y2="424"/><line x1="250.5" y1="419" x2="250.5" y2="421"/><line x1="263.5" y1="419" x2="263.5" y2="424"/><line x1="276.5" y1="419" x2="276.5" y2="421"/><line x1="301.5" y1="419" x2="301.5" y2="424"/><line x1="327.5" y1="419" x2="327.5" y2="421"/><line x1="340.5" y1="419" x2="340.5" y2="424"/><line x1="353.5" y1="419" x2="353.5" y2="421"/><line x1="379.5" y1="419" x2="379.5" y2="424"/><line x1="405.5" y1="419" x2="405.5" y2="421"/><line x1="418.5" y1="419" x2="418.5" y2="424"/><line x1="431.5" y1="419" x2="431.5" y2="421"/><line x1="457.5" y1="419" x2="457.5" y2="424"/><line x1="483.5" y1="419" x2="483.5" y2="421"/></g>
<text x="549" y="55.1" class="k" textLength="23.5" lengthAdjust="spacingAndGlyphs">4282</text><text x="549" y="75.4" class="k" textLength="23.5" lengthAdjust="spacingAndGlyphs">4280</text><text x="549" y="95.7" class="k" textLength="23.5" lengthAdjust="spacingAndGlyphs">4278</text><text x="549" y="116.0" class="k" textLength="23.5" lengthAdjust="spacingAndGlyphs">4276</text><text x="549" y="136.3" class="k" textLength="23.5" lengthAdjust="spacingAndGlyphs">4274</text><text x="549" y="156.6" class="k" textLength="23.5" lengthAdjust="spacingAndGlyphs">4272</text><text x="549" y="176.9" class="k" textLength="23.5" lengthAdjust="spacingAndGlyphs">4270</text><text x="549" y="197.2" class="k" textLength="23.5" lengthAdjust="spacingAndGlyphs">4268</text><text x="549" y="217.5" class="k" textLength="23.5" lengthAdjust="spacingAndGlyphs">4266</text><text x="549" y="237.8" class="k" textLength="23.5" lengthAdjust="spacingAndGlyphs">4264</text><text x="549" y="258.1" class="k" textLength="23.5" lengthAdjust="spacingAndGlyphs">4262</text><text x="549" y="278.4" class="k" textLength="23.5" lengthAdjust="spacingAndGlyphs">4260</text><text x="549" y="298.7" class="k" textLength="23.5" lengthAdjust="spacingAndGlyphs">4258</text><text x="549" y="319.0" class="k" textLength="23.5" lengthAdjust="spacingAndGlyphs">4256</text><text x="549" y="382" class="k">0</text><text x="549" y="397" class="k">-5</text><text x="549" y="411.2" class="k">-10</text><text x="30" y="437.3" class="k" textLength="27" lengthAdjust="spacingAndGlyphs">11:15</text><text x="68" y="437.3" class="k" textLength="27" lengthAdjust="spacingAndGlyphs">11:30</text><text x="107" y="437.3" class="k" textLength="27" lengthAdjust="spacingAndGlyphs">11:45</text><text x="146" y="437.3" class="k" textLength="27" lengthAdjust="spacingAndGlyphs">12:00</text><text x="185" y="437.3" class="k" textLength="27" lengthAdjust="spacingAndGlyphs">12:15</text><text x="224" y="437.3" class="k" textLength="27" lengthAdjust="spacingAndGlyphs">12:30</text><text x="263" y="437.3" class="k" textLength="27" lengthAdjust="spacingAndGlyphs">12:45</text><text x="301" y="437.3" class="k" textLength="27" lengthAdjust="spacingAndGlyphs">13:00</text><text x="340" y="437.3" class="k" textLength="27" lengthAdjust="spacingAndGlyphs">13:15</text><text x="379" y="437.3" class="k" textLength="27" lengthAdjust="spacingAndGlyphs">13:30</text><text x="418" y="437.3" class="k" textLength="27" lengthAdjust="spacingAndGlyphs">13:45</text><text x="457" y="437.3" class="k" textLength="27" lengthAdjust="spacingAndGlyphs">14:00</text>
<text x="544.7" y="20.6" class="n" textLength="19.3" lengthAdjust="spacingAndGlyphs">EUR</text>
<text x="544.5" y="353" class="n" textLength="19" lengthAdjust="spacingAndGlyphs">SPD</text>
<g stroke="#000080" stroke-width="1" shape-rendering="crispEdges"><line x1="31.5" y1="10" x2="31.5" y2="20"/><rect x="28.5" y="12.5" width="6" height="5" fill="#008080"/></g>
<path d="M26.3,23.299999999999997L31,33.3M31,23.299999999999997L26.3,33.3M31.8,23.299999999999997L36.5,33.3M36.5,23.299999999999997L31.8,33.3" fill="none" stroke="#ff0080" stroke-width="0.9"/>
<path d="M26.3,36.3L31,46.3M31,36.3L26.3,46.3M31.8,36.3L36.5,46.3M36.5,36.3L31.8,46.3" fill="none" stroke="#909090" stroke-width="0.9"/>
<path d="M26.3,49.3L31,59.3M31,49.3L26.3,59.3M31.8,49.3L36.5,59.3M36.5,49.3L31.8,59.3" fill="none" stroke="#909090" stroke-width="0.9"/>
<g stroke="#808080" stroke-width="1" shape-rendering="crispEdges"><line x1="28.5" y1="349" x2="28.5" y2="352"/><line x1="30.5" y1="350" x2="30.5" y2="352"/><line x1="33.5" y1="348" x2="33.5" y2="352"/></g>
<g clip-path="url(#cpPlot)">
<text x="40" y="19.6" class="n" textLength="19.3" lengthAdjust="spacingAndGlyphs">DAX</text><text x="66.7" y="19.6" class="n" textLength="3.3" lengthAdjust="spacingAndGlyphs">-</text><text x="73.3" y="19.6" class="n" textLength="58.4" lengthAdjust="spacingAndGlyphs">DEUTSCHER</text><text x="135" y="19.6" class="n" textLength="65" lengthAdjust="spacingAndGlyphs">AKTIENINDEX</text><text x="204" y="19.6" class="n" textLength="115.3" lengthAdjust="spacingAndGlyphs">(PERFORMANCEINDEX),</text><text x="325" y="19.6" class="n" textLength="36.7" lengthAdjust="spacingAndGlyphs">.GDAXI,</text><text x="366.7" y="19.6" class="n" textLength="5.3" lengthAdjust="spacingAndGlyphs">5</text><text x="375" y="19.6" class="n" textLength="38.3" lengthAdjust="spacingAndGlyphs">Minuten</text><text x="417" y="19.6" class="n" textLength="3.3" lengthAdjust="spacingAndGlyphs">-</text><text x="423.3" y="19.6" class="n" textLength="55.0" lengthAdjust="spacingAndGlyphs">12.05.2005</text><text x="483.3" y="19.6" class="n" textLength="42.7" lengthAdjust="spacingAndGlyphs">11:15:00</text><text x="529.7" y="19.6" class="n" textLength="3.3" lengthAdjust="spacingAndGlyphs">-</text><text x="536.7" y="19.6" class="n" textLength="3.8" lengthAdjust="spacingAndGlyphs">1</text>
<text x="40.2" y="32.6" class="p" textLength="19.5" lengthAdjust="spacingAndGlyphs">SMA</text><text x="64.2" y="32.6" class="p" textLength="32.5" lengthAdjust="spacingAndGlyphs">[Close,</text><text x="101.2" y="32.6" class="p" textLength="18.1" lengthAdjust="spacingAndGlyphs">35]:</text><text x="121.5" y="32.6" class="p" textLength="62.0" lengthAdjust="spacingAndGlyphs">4267.614857</text>
<text x="40.2" y="45.6" class="g" textLength="18.5" lengthAdjust="spacingAndGlyphs">KCH</text><text x="63.7" y="45.6" class="g" textLength="20.3" lengthAdjust="spacingAndGlyphs">[20,</text><text x="87.7" y="45.6" class="g" textLength="8.3" lengthAdjust="spacingAndGlyphs">1]</text><text x="99" y="45.6" class="g" textLength="18.7" lengthAdjust="spacingAndGlyphs">KCH</text><text x="121.8" y="45.6" class="g" textLength="35.5" lengthAdjust="spacingAndGlyphs">Center:</text><text x="158.7" y="45.6" class="g" textLength="63.6" lengthAdjust="spacingAndGlyphs">4263.978452</text><text x="226.2" y="45.6" class="g" textLength="18.6" lengthAdjust="spacingAndGlyphs">KCH</text><text x="248.2" y="45.6" class="g" textLength="31.5" lengthAdjust="spacingAndGlyphs">Upper:</text><text x="281.5" y="45.6" class="g" textLength="63.5" lengthAdjust="spacingAndGlyphs">4266.052952</text><text x="349.2" y="45.6" class="g" textLength="18.7" lengthAdjust="spacingAndGlyphs">KCH</text><text x="371.5" y="45.6" class="g" textLength="32.0" lengthAdjust="spacingAndGlyphs">Lower:</text><text x="405.1" y="45.6" class="g" textLength="63.1" lengthAdjust="spacingAndGlyphs">4261.903952</text>
<text x="40.2" y="58.6" class="g" textLength="32.0" lengthAdjust="spacingAndGlyphs">KCH(2)</text><text x="78" y="58.6" class="g" textLength="20.2" lengthAdjust="spacingAndGlyphs">[20,</text><text x="102" y="58.6" class="g" textLength="22.6" lengthAdjust="spacingAndGlyphs">2.66]</text><text x="128.9" y="58.6" class="g" textLength="18.6" lengthAdjust="spacingAndGlyphs">KCH</text><text x="151.5" y="58.6" class="g" textLength="35.0" lengthAdjust="spacingAndGlyphs">Center:</text><text x="188.1" y="58.6" class="g" textLength="63.7" lengthAdjust="spacingAndGlyphs">4263.978452</text>
<text x="255.2" y="58.6" class="k" textLength="18.6" lengthAdjust="spacingAndGlyphs">KCH</text><text x="277.8" y="58.6" class="k" textLength="31.7" lengthAdjust="spacingAndGlyphs">Upper:</text><text x="311.2" y="58.6" class="k" textLength="63.7" lengthAdjust="spacingAndGlyphs">4269.496622</text><text x="378.5" y="58.6" class="k" textLength="18.7" lengthAdjust="spacingAndGlyphs">KCH</text><text x="401.2" y="58.6" class="k" textLength="31.9" lengthAdjust="spacingAndGlyphs">Lower:</text><text x="434.5" y="58.6" class="k" textLength="63.5" lengthAdjust="spacingAndGlyphs">4258.460282</text>
<text x="26" y="71.6" class="k" textLength="9.5" lengthAdjust="spacingAndGlyphs">©</text><text x="38.3" y="71.6" class="k" textLength="103.4" lengthAdjust="spacingAndGlyphs">www.tradesignal.com</text>
<text x="39.7" y="352.6" class="g" textLength="19.3" lengthAdjust="spacingAndGlyphs">SPD</text><text x="62" y="352.6" class="g" textLength="31.5" lengthAdjust="spacingAndGlyphs">[WMA,</text><text x="97.5" y="352.6" class="g" textLength="23.0" lengthAdjust="spacingAndGlyphs">SMA,</text><text x="125.7" y="352.6" class="g" textLength="57.8" lengthAdjust="spacingAndGlyphs">1]:-4.92486</text>
</g>
</svg></body></html>
